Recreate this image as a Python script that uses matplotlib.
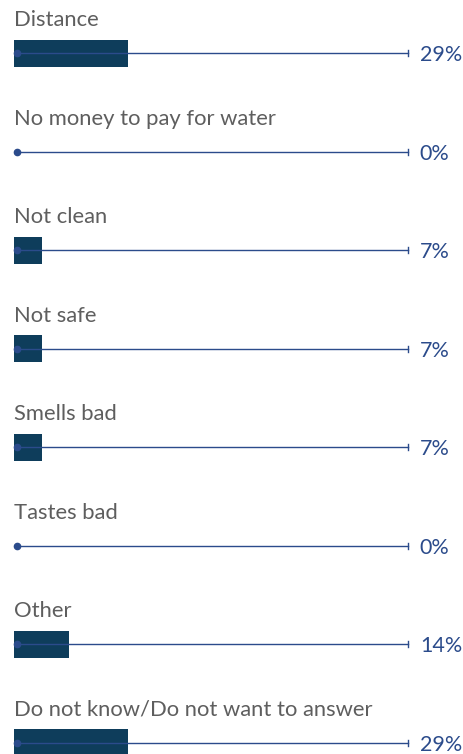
import matplotlib.pyplot as plt
import numpy as np

razones = ['Distance', 'No money to pay for water', 'Not clean', 'Not safe',
           'Smells bad', 'Tastes bad', 'Other', 'Do not know/Do not want to answer']
porcentajes = [29, 0, 7, 7, 7, 0, 14, 29]

color_barra = '#0e3d5b'
color_linea = '#2b4b8b'
color_texto = '#5e5e5e'

fig = plt.figure(figsize=(4.64, 7.54), dpi=100)
ax = fig.add_axes([0, 0, 1, 1])

px_x = 3.94     # pixeles por unidad en x
px_y = 98.57    # pixeles por fila
ax.set_xlim(-14 / px_x, (464 - 14) / px_x)
ax.set_ylim((754 - 53) / px_y, -53 / px_y)
ax.axis('off')

filas = np.arange(len(razones))
ax.barh(filas, porcentajes, height=27 / px_y, left=0, color=color_barra, zorder=1)

for i, (r, p) in enumerate(zip(razones, porcentajes)):
    # linea de fondo con punto y marca final
    ax.plot([0.7, 100], [i, i], color=color_linea, lw=1.0, zorder=2)
    ax.plot(0.7, i, 'o', color=color_linea, ms=4.5, zorder=3)
    ax.plot([100, 100], [i - 3 / px_y, i + 3 / px_y], color=color_linea, lw=1.0, zorder=2)
    ax.text(0, i - 33 / px_y, r, fontsize=15.8, color=color_texto, family='Lato',
            va='center', ha='left')
    ax.text(103, i + 2 / px_y, f'{p}%', fontsize=15.5, color=color_linea, family='Lato',
            va='center', ha='left')

plt.savefig('out.png', dpi=100)
